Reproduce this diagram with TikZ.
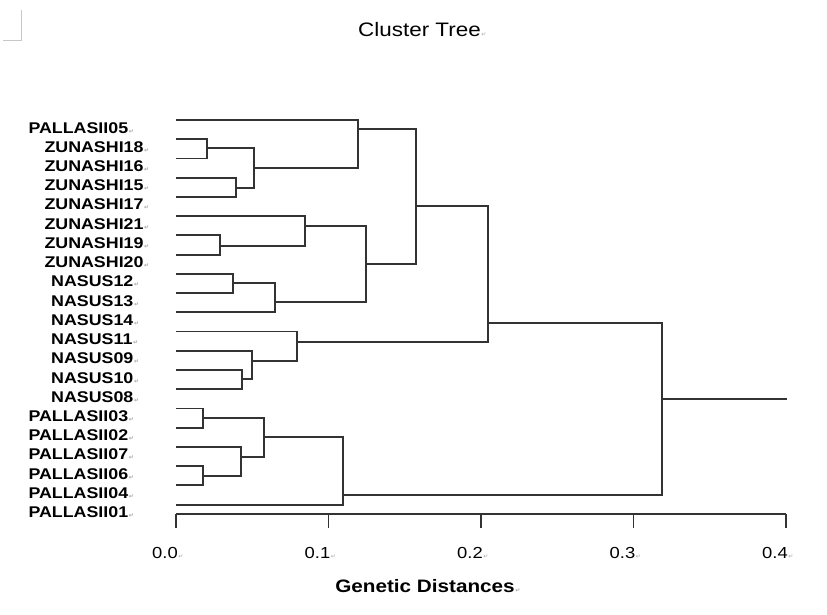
\documentclass[tikz,border=0pt]{standalone}
\usepackage{fontspec}
\setmainfont{Liberation Sans}[FakeStretch=1.15]
\newfontfamily\retfont{DejaVu Sans}
\usetikzlibrary{positioning,calc}

% small Word paragraph mark after each text
\newcommand{\retm}{\kern0.6pt{\retfont\fontsize{6}{6}\selectfont\color{black!35}↵}}

\begin{document}
\begin{tikzpicture}[x=1pt,y=-1pt]

\tikzstyle{leaflbl}=[inner sep=0pt,anchor=base west,font=\fontsize{15.5}{16}\selectfont\bfseries]
\tikzstyle{ticklbl}=[inner sep=0pt,anchor=base east,font=\fontsize{16}{17}\selectfont]
\tikzstyle{branch}=[draw=black!80,line width=1.9pt]

\useasboundingbox (0,0) rectangle (827,614);

% corner mark
\draw[black!22,line width=0.8pt] (3,40) -- (21.7,40) -- (21.7,10);

% TITLE
\node[inner sep=0pt,anchor=base west,font=\fontsize{19.5}{20}\selectfont](title) at (358,36.7){Cluster Tree\rlap{\retm}};

% LEAVES
\coordinate (p05) at (176,120);
\coordinate (z18) at (176,139.2);
\coordinate (z16) at (176,158.5);
\coordinate (z15) at (176,177.7);
\coordinate (z17) at (176,196.9);
\coordinate (z21) at (176,216.2);
\coordinate (z19) at (176,235.4);
\coordinate (z20) at (176,254.6);
\coordinate (n12) at (176,273.8);
\coordinate (n13) at (176,293.1);
\coordinate (n14) at (176,312.3);
\coordinate (n11) at (176,331.5);
\coordinate (n09) at (176,350.8);
\coordinate (n10) at (176,370);
\coordinate (n08) at (176,389.2);
\coordinate (p03) at (176,408.5);
\coordinate (p02) at (176,427.7);
\coordinate (p07) at (176,446.9);
\coordinate (p06) at (176,466.1);
\coordinate (p04) at (176,485.4);
\coordinate (p01) at (176,504.6);

% labels
\node[leaflbl](p05-l) at (28.3,133){PALLASII05\rlap{\retm}};
\node[leaflbl](z18-l) at (44.3,152.2){ZUNASHI18\rlap{\retm}};
\node[leaflbl](z16-l) at (44.3,171.5){ZUNASHI16\rlap{\retm}};
\node[leaflbl](z15-l) at (44.3,190.7){ZUNASHI15\rlap{\retm}};
\node[leaflbl](z17-l) at (44.3,209.9){ZUNASHI17\rlap{\retm}};
\node[leaflbl](z21-l) at (44.3,229.2){ZUNASHI21\rlap{\retm}};
\node[leaflbl](z19-l) at (44.3,248.4){ZUNASHI19\rlap{\retm}};
\node[leaflbl](z20-l) at (44.3,267.6){ZUNASHI20\rlap{\retm}};
\node[leaflbl](n12-l) at (51,286.8){NASUS12\rlap{\retm}};
\node[leaflbl](n13-l) at (51,306.1){NASUS13\rlap{\retm}};
\node[leaflbl](n14-l) at (51,325.3){NASUS14\rlap{\retm}};
\node[leaflbl](n11-l) at (51,344.5){NASUS11\rlap{\retm}};
\node[leaflbl](n09-l) at (51,363.8){NASUS09\rlap{\retm}};
\node[leaflbl](n10-l) at (51,383){NASUS10\rlap{\retm}};
\node[leaflbl](n08-l) at (51,402.2){NASUS08\rlap{\retm}};
\node[leaflbl](p03-l) at (28.3,421.5){PALLASII03\rlap{\retm}};
\node[leaflbl](p02-l) at (28.3,440.7){PALLASII02\rlap{\retm}};
\node[leaflbl](p07-l) at (28.3,459.9){PALLASII07\rlap{\retm}};
\node[leaflbl](p06-l) at (28.3,479.1){PALLASII06\rlap{\retm}};
\node[leaflbl](p04-l) at (28.3,498.4){PALLASII04\rlap{\retm}};
\node[leaflbl](p01-l) at (28.3,517.6){PALLASII01\rlap{\retm}};

% JOINS
\coordinate (jA) at (207.3,148.3);
\coordinate (jB) at (235.7,187.7);
\coordinate (jC) at (254.3,168.3);
\coordinate (jD) at (357.7,129.3);
\coordinate (jE) at (220,245.7);
\coordinate (jF) at (305,226);
\coordinate (jG) at (233.3,283.3);
\coordinate (jH) at (275,302.3);
\coordinate (jI) at (366,264.3);
\coordinate (jJ) at (416,206);
\coordinate (jK) at (241.7,379.3);
\coordinate (jL) at (252,360.7);
\coordinate (jM) at (296.7,341.7);
\coordinate (jN) at (488.3,322.7);
\coordinate (jP) at (203.3,417.7);
\coordinate (jQ) at (203.3,476);
\coordinate (jR) at (241,456.7);
\coordinate (jS) at (264.3,436.7);
\coordinate (jT) at (342.7,495);
\coordinate (root) at (661.7,399);
\coordinate (stem) at (786.7,399);

% BRANCHES
\draw[branch] (z18) -| (jA) |- (z16);
\draw[branch] (z15) -| (jB) |- (z17);
\draw[branch] (jA) -| (jC) |- (jB);
\draw[branch] (p05) -| (jD) |- (jC);
\draw[branch] (z19) -| (jE) |- (z20);
\draw[branch] (z21) -| (jF) |- (jE);
\draw[branch] (n12) -| (jG) |- (n13);
\draw[branch] (jG) -| (jH) |- (n14);
\draw[branch] (jF) -| (jI) |- (jH);
\draw[branch] (jD) -| (jJ) |- (jI);
\draw[branch] (n10) -| (jK) |- (n08);
\draw[branch] (n09) -| (jL) |- (jK);
\draw[branch] (n11) -| (jM) |- (jL);
\draw[branch] (jJ) -| (jN) |- (jM);
\draw[branch] (p03) -| (jP) |- (p02);
\draw[branch] (p06) -| (jQ) |- (p04);
\draw[branch] (p07) -| (jR) |- (jQ);
\draw[branch] (jP) -| (jS) |- (jR);
\draw[branch] (jS) -| (jT) |- (p01);
\draw[branch] (jN) -| (root) |- (jT);
\draw[branch] (root) -- (stem);

% AXIS
\coordinate (t0) at (176,514);
\coordinate (t1) at (328.5,514);
\coordinate (t2) at (481,514);
\coordinate (t3) at (633.5,514);
\coordinate (t4) at (786,514);
\draw[branch] (t0) -- (t4);
\draw[branch] (t0) -- ++(0,14);
\draw[branch] (t1) -- ++(0,14);
\draw[branch] (t2) -- ++(0,14);
\draw[branch] (t3) -- ++(0,14);
\draw[branch] (t4) -- ++(0,14);

\node[ticklbl](l0) at ($(t0)+(2,44)$){0.0\rlap{\retm}};
\node[ticklbl](l1) at ($(t1)+(2,44)$){0.1\rlap{\retm}};
\node[ticklbl](l2) at ($(t2)+(2,44)$){0.2\rlap{\retm}};
\node[ticklbl](l3) at ($(t3)+(2,44)$){0.3\rlap{\retm}};
\node[ticklbl](l4) at ($(t4)+(2,44)$){0.4\rlap{\retm}};

\node[inner sep=0pt,font=\fontsize{18}{19}\selectfont\bfseries](xtitle) at (425,586){Genetic Distances\rlap{\retm}};

\end{tikzpicture}
\end{document}
